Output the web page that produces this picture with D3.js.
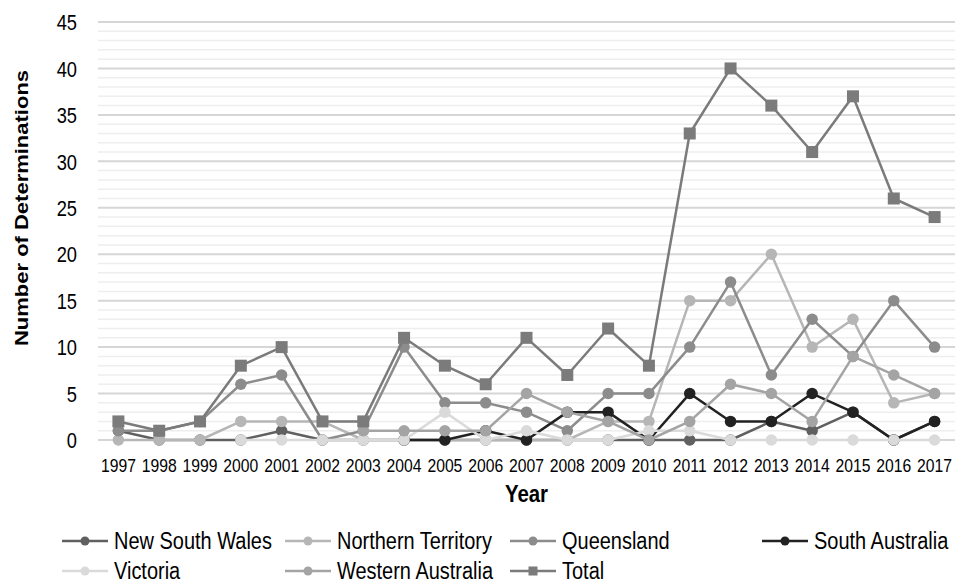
<!DOCTYPE html>
<html>
<head>
<meta charset="utf-8">
<script src="https://cdn.jsdelivr.net/npm/d3@7"></script>
<style>
  html, body { margin: 0; padding: 0; background: #ffffff; }
  svg { display: block; }
  text { font-family: "Liberation Sans", Arial, sans-serif; fill: #000; }
</style>
</head>
<body>
<svg id="chart" width="955" height="583"></svg>
<script>
// Native title determinations per year, by state/territory
const years = ["1997","1998","1999","2000","2001","2002","2003","2004","2005","2006","2007",
               "2008","2009","2010","2011","2012","2013","2014","2015","2016","2017"];
const newSouthWales     = [1,0,0,0,1,0,0,0,0,0,0,0,0,0,0,0,2,1,3,0,2];
const northernTerritory = [0,0,0,2,2,2,0,0,0,0,0,0,2,2,15,15,20,10,13,4,5];
const queensland        = [1,1,2,6,7,0,1,10,4,4,3,1,5,5,10,17,7,13,9,15,10];
const southAustralia    = [null,null,null,null,null,null,null,0,0,1,0,3,3,0,5,2,2,5,3,0,2];
const victoria          = [null,null,null,0,0,0,0,0,3,0,1,0,0,1,1,0,0,0,0,0,0];
const westernAustralia  = [null,null,null,null,null,null,1,1,1,1,5,3,2,0,2,6,5,2,9,7,5];
const total             = [2,1,2,8,10,2,2,11,8,6,11,7,12,8,33,40,36,31,37,26,24];
const yTicks = [0,5,10,15,20,25,30,35,40,45];

const series = [
  { name: "New South Wales",    values: newSouthWales,     color: "#606060", marker: "circle" },
  { name: "Northern Territory", values: northernTerritory, color: "#b6b6b6", marker: "circle" },
  { name: "Queensland",         values: queensland,        color: "#8c8c8c", marker: "circle" },
  { name: "South Australia",    values: southAustralia,    color: "#222222", marker: "circle" },
  { name: "Victoria",           values: victoria,          color: "#dadada", marker: "circle" },
  { name: "Western Australia",  values: westernAustralia,  color: "#a4a4a4", marker: "circle" },
  { name: "Total",              values: total,             color: "#7b7b7b", marker: "square" }
];

// horizontal compression applied to all glyphs (narrow lettering)
const NARROW = 0.85;

const svg = d3.select("#chart");
const plot = { left: 98, right: 955, top: 22, bottom: 440 };

const x = d3.scaleBand().domain(years).range([plot.left, plot.right]).padding(0);
const cx = d => x(d) + x.bandwidth() / 2;
const y = d3.scaleLinear().domain([0, 45]).range([plot.bottom, plot.top]);

// gridlines: light minor lines every unit, stronger major lines every 5
const grid = svg.append("g");
grid.selectAll("line.minor")
  .data(d3.range(0, 46).filter(v => v % 5 !== 0))
  .join("line")
  .attr("x1", plot.left).attr("x2", plot.right)
  .attr("y1", d => y(d)).attr("y2", d => y(d))
  .attr("stroke", "#eeeeee").attr("stroke-width", 1.5);
grid.selectAll("line.major")
  .data(yTicks)
  .join("line")
  .attr("x1", plot.left).attr("x2", plot.right)
  .attr("y1", d => y(d)).attr("y2", d => y(d))
  .attr("stroke", "#d6d6d6").attr("stroke-width", 2);

// axes (labels only)
const yPad = 21;
const yAxis = svg.append("g")
  .attr("transform", `translate(${plot.left},0)`)
  .call(d3.axisLeft(y).tickValues(yTicks).tickSize(0).tickPadding(yPad));
yAxis.select(".domain").remove();
yAxis.selectAll("text")
  .style("font-size", "21.5px")
  .attr("x", -yPad / NARROW)
  .attr("dy", "0.36em")
  .attr("transform", `scale(${NARROW},1)`);

const xAxis = svg.append("g")
  .attr("transform", `translate(0,${plot.bottom})`)
  .call(d3.axisBottom(x).tickSize(0).tickPadding(19));
xAxis.select(".domain").remove();
xAxis.selectAll("text")
  .style("font-size", "18.5px")
  .attr("transform", `scale(${NARROW},1)`);

// axis titles
svg.append("text")
  .attr("transform", `translate(22,208) rotate(-90) scale(1,${NARROW})`)
  .attr("text-anchor", "middle").attr("dominant-baseline", "central")
  .style("font-size", "22px").style("font-weight", "bold")
  .text("Number of Determinations");
svg.append("text")
  .attr("transform", `translate(${(plot.left + plot.right) / 2},494) scale(${NARROW},1)`)
  .attr("text-anchor", "middle").attr("dominant-baseline", "central")
  .style("font-size", "24px").style("font-weight", "bold")
  .text("Year");

// series lines and markers
const line = d3.line()
  .defined(d => d.v !== null)
  .x(d => cx(d.year))
  .y(d => y(d.v));

function drawMarker(sel, s, size) {
  if (s.marker === "square") {
    sel.append("rect")
      .attr("x", -size / 2).attr("y", -size / 2)
      .attr("width", size).attr("height", size)
      .attr("fill", s.color);
  } else {
    sel.append("circle").attr("r", size / 2).attr("fill", s.color);
  }
}

const lines = svg.append("g");
series.forEach(s => {
  const pts = years.map((yr, i) => ({ year: yr, v: s.values[i] }));
  const g = lines.append("g");
  g.append("path")
    .datum(pts)
    .attr("d", line)
    .attr("fill", "none")
    .attr("stroke", s.color)
    .attr("stroke-width", 2.5)
    .attr("stroke-linejoin", "round");
  pts.filter(p => p.v !== null).forEach(p => {
    const m = g.append("g").attr("transform", `translate(${cx(p.year)},${y(p.v)})`);
    drawMarker(m, s, s.marker === "square" ? 12 : 11.5);
  });
});

// legend
const legendCols = [62, 285, 510, 762];
const legendRows = [541, 571];
const legend = svg.append("g");
series.forEach((s, i) => {
  const col = i < 4 ? i : i - 4;
  const row = i < 4 ? 0 : 1;
  const g = legend.append("g")
    .attr("transform", `translate(${legendCols[col]},${legendRows[row]})`);
  g.append("line").attr("x1", 0).attr("x2", 46).attr("y1", 0).attr("y2", 0)
    .attr("stroke", s.color).attr("stroke-width", 2.5);
  const m = g.append("g").attr("transform", "translate(23,0)");
  drawMarker(m, s, 9);
  g.append("text")
    .attr("transform", `translate(52,0) scale(${NARROW},1)`)
    .attr("dominant-baseline", "central")
    .style("font-size", "23.5px")
    .text(s.name);
});
</script>
</body>
</html>
